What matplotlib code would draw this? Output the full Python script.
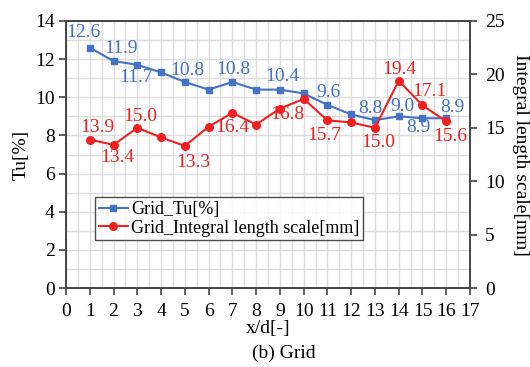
import matplotlib
matplotlib.use("Agg")
import matplotlib.pyplot as plt
import numpy as np

plt.rcParams['font.family'] = ['Liberation Serif', 'DejaVu Serif']

# measurements along the downstream distance
x_d = [1, 2, 3, 4, 5, 6, 7, 8, 9, 10, 11, 12, 13, 14, 15, 16]
tu = [12.6, 11.9, 11.7, 11.3, 10.8, 10.4, 10.8, 10.4, 10.4, 10.2, 9.6, 9.1, 8.8, 9.0, 8.9, 8.9]
ils = [13.9, 13.4, 15.0, 14.1, 13.3, 15.1, 16.4, 15.3, 16.8, 17.7, 15.7, 15.5, 15.0, 19.4, 17.1, 15.6]

# which points get a value label, and where (pixel offsets from the marker)
tu_labels = {1: (-6, 15), 2: (7, 12), 3: (-1, -13), 5: (2, 11), 7: (1, 12), 9: (2, 13),
             11: (1, 12), 13: (-5, 12), 14: (4, 10), 15: (-4, -9), 16: (6, 11)}
ils_labels = {1: (8, 12), 2: (4, -13), 3: (3, 11), 5: (8, -17), 7: (0, -15), 9: (7, -6),
              11: (-3, -15), 13: (3, -15), 14: (1, 11), 15: (7, 14), 16: (4, -15)}

blue = '#4472C4'
red = '#F02020'
fs = 14

fig = plt.figure(figsize=(5.30, 3.67), dpi=100)
ax = fig.add_axes([0.1245, 0.215, 0.7623, 0.728])
ax2 = ax.twinx()

# grid: every half unit on x, every unit on y
ax.set_xticks(np.arange(0, 17.01, 0.5), minor=True)
ax.set_yticks(np.arange(0, 14.01, 1), minor=True)
ax.grid(which='both', color='#dddddd', linewidth=1.0)
ax.set_axisbelow(True)

l1, = ax.plot(x_d, tu, color=blue, marker='s', markersize=5, linewidth=1.5, label='Grid_Tu[%]', zorder=3)
l2, = ax2.plot(x_d, ils, color=red, marker='o', markersize=5.5, linewidth=1.5,
               label='Grid_Integral length scale[mm]', zorder=3)

for i, (dx, dy) in tu_labels.items():
    ax.annotate('%.1f' % tu[i - 1], (x_d[i - 1], tu[i - 1]), xytext=(dx, dy),
                textcoords='offset pixels', ha='center', va='center', color=blue, fontsize=fs)
for i, (dx, dy) in ils_labels.items():
    ax2.annotate('%.1f' % ils[i - 1], (x_d[i - 1], ils[i - 1]), xytext=(dx, dy),
                 textcoords='offset pixels', ha='center', va='center', color=red, fontsize=fs)

ax.set_xlim(0, 17)
ax.set_ylim(0, 14)
ax2.set_ylim(0, 25)
ax.set_xticks(range(0, 18))
ax.set_yticks(range(0, 15, 2))
ax2.set_yticks(range(0, 26, 5))

for a in (ax, ax2):
    a.tick_params(which='major', labelsize=fs, length=5, width=1.2, color='#444444', pad=3)
    a.tick_params(which='minor', length=0)
    for s in a.spines.values():
        s.set_color('#444444')
        s.set_linewidth(1.2)
ax.tick_params(axis='x', pad=6)
ax2.tick_params(axis='y', pad=6)

ax.set_ylabel('Tu[%]', fontsize=fs, labelpad=4)
ax.set_xlabel('x/d[-]', fontsize=fs, labelpad=0)
ax2.set_ylabel('Integral length scale[mm]', fontsize=fs, rotation=270, labelpad=17)

leg = ax.legend(handles=[l1, l2], loc='upper left', bbox_to_anchor=(0.072, 0.34),
                fontsize=13, frameon=True, fancybox=False, borderpad=0.2,
                handlelength=1.6, handletextpad=0.2, labelspacing=0.1, borderaxespad=0)
leg.get_frame().set_edgecolor('#222222')
leg.get_frame().set_linewidth(1.0)

fig.text(0.535, 0.036, '(b) Grid', ha='center', va='center', fontsize=fs)

fig.savefig('out.png', dpi=100)
